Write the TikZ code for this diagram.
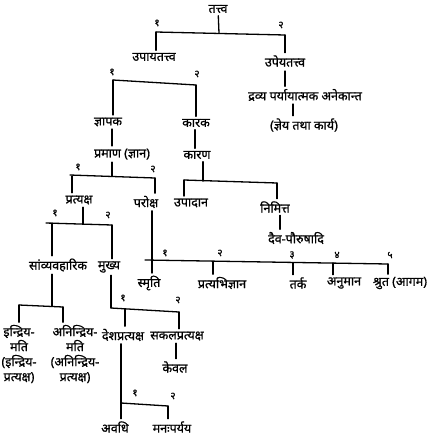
\documentclass[tikz,border=0pt]{standalone}
\usepackage{fontspec}
\newfontfamily\deva[Script=Devanagari,FakeBold=0.9]{Noto Sans}
\begin{document}
\begin{tikzpicture}[x=1pt,y=-1pt,
  lbl/.style={font=\deva\fontsize{12.5}{15}\selectfont, inner sep=2.5pt},
  num/.style={font=\deva\fontsize{10}{12}\selectfont, inner sep=0pt},
  link/.style={line width=1.3pt, line cap=round}]
\useasboundingbox (0,0) rectangle (435,437);

% ---------------- top level ----------------
\node[lbl] (tattva) at (218,9) {तत्त्व};
\node[num] (t1) at (157,23) {१};
\node[num] (t2) at (281,25) {२};
\coordinate (tbL) at (156,32);
\coordinate (tbR) at (285,35);
\coordinate (tbM) at (219,33);
\node[lbl] (upaya) at (154,57) {उपायतत्त्व};
\node[lbl] (upeya) at (285,61) {उपेयतत्त्व};
\draw[link] (tattva) -- (tbM);
\draw[link] (tbL) -- (tbR);
\draw[link] (tbL) -- (tbL |- upaya.north);
\draw[link] (tbR) -- (tbR |- upeya.north);

% upeya branch
\node[lbl] (dravya) at (305,95) {द्रव्य पर्यायात्मक अनेकान्त};
\node[lbl] (jneya) at (304,125) {(ज्ञेय तथा कार्य)};
\coordinate (upx) at (285,71);
\draw[link] (upx) -- (upx |- dravya.north);
\coordinate (drx) at (293,104);
\draw[link] (drx) -- (drx |- jneya.north);

% ---------------- upaya branch ----------------
\node[num] (u1) at (112,72) {१};
\node[num] (u2) at (197,74) {२};
\coordinate (ubL) at (113,80);
\coordinate (ubR) at (196,85);
\draw[link] (ubL) -- (ubR);
\node[lbl] (jnapaka) at (108,122) {ज्ञापक};
\node[lbl] (karaka) at (196,123) {कारक};
\draw[link] (ubL) -- (ubL |- jnapaka.north);
\draw[link] (ubR) -- (ubR |- karaka.north);

\node[lbl] (pramana) at (122,154) {प्रमाण (ज्ञान)};
\node[lbl] (karana) at (197,155) {कारण};
\coordinate (jx) at (112,130);
\draw[link] (jx |- jnapaka.south) -- (jx |- pramana.north);
\coordinate (kx) at (195,131);
\draw[link] (kx |- karaka.south) -- (kx |- karana.north);

% pramana: pratyaksha / paroksha
\node[num] (p1) at (78,167) {१};
\node[num] (p2) at (153,169) {२};
\coordinate (pbL) at (70,175);
\coordinate (pbR) at (155,178);
\coordinate (pbM) at (112,176);
\draw[link] (pbL) -- (pbR);
\draw[link] (pbM |- pramana.south) -- (pbM);
\node[lbl] (pratyaksha) at (79,200) {प्रत्यक्ष};
\node[lbl] (paroksha) at (146,202) {परोक्ष};
\coordinate (pvL) at (72,176);
\draw[link] (pvL) -- (pvL |- pratyaksha.north);
\draw[link] (pbR) -- (pbR |- paroksha.north);

% karana: upadana / nimitta
\coordinate (kbL) at (184,180);
\coordinate (kbR) at (277,183);
\coordinate (kbM) at (203,181);
\draw[link] (kbL) -- (kbR);
\draw[link] (kbM |- karana.south) -- (kbM);
\node[lbl] (upadana) at (191,203) {उपादान};
\node[lbl] (nimitta) at (275,207) {निमित्त};
\draw[link] (kbL) -- (kbL |- upadana.north);
\draw[link] (kbR) -- (kbR |- nimitta.north);
\node[lbl] (daiva) at (296,238) {दैव-पौरुषादि};
\coordinate (nx) at (280,215);
\draw[link] (nx |- nimitta.south) -- (nx |- daiva.north);

% pratyaksha: samvyavaharika / mukhya
\node[num] (r1) at (55,213) {१};
\node[num] (r2) at (108,215) {२};
\coordinate (rbL) at (46,223);
\coordinate (rbR) at (112,225);
\coordinate (rbM) at (83,224);
\draw[link] (rbL) -- (rbR);
\draw[link] (rbM |- pratyaksha.south) -- (rbM);
\node[lbl] (samvy) at (58,265) {सांव्यवहारिक};
\node[lbl] (mukhya) at (109,267) {मुख्य};
\coordinate (rvL) at (52,223);
\draw[link] (rvL) -- (rvL |- samvy.north);
\draw[link] (rbR) -- (rbR |- mukhya.north);

% samvyavaharika: indriya / anindriya
\coordinate (sbL) at (19,305);
\coordinate (sbR) at (63,307);
\coordinate (sbM) at (52,306);
\draw[link] (sbL) -- (sbR);
\draw[link] (sbM |- samvy.south) -- (sbM);
\node[lbl, align=center] (indriya) at (19,354) {इन्द्रिय-\\मति\\(इन्द्रिय-\\प्रत्यक्ष)};
\node[lbl, align=center] (anindriya) at (75,354) {अनिन्द्रिय-\\मति\\(अनिन्द्रिय-\\प्रत्यक्ष)};
\draw[link] (sbL) -- (sbL |- indriya.north);
\draw[link] (sbR) -- (sbR |- anindriya.north);

% mukhya: desha / sakala
\node[num] (m1) at (123,298) {१};
\node[num] (m2) at (178,300) {२};
\coordinate (mbL) at (111,308);
\coordinate (mbR) at (179,312);
\draw[link] (mbL) -- (mbR);
\draw[link] (mbL |- mukhya.south) -- (mbL);
\node[lbl] (desha) at (123,335) {देशप्रत्यक्ष};
\node[lbl] (sakala) at (177,336) {सकलप्रत्यक्ष};
\coordinate (mvL) at (125,309);
\draw[link] (mvL) -- (mvL |- desha.north);
\draw[link] (mbR) -- (mbR |- sakala.north);
\node[lbl] (kevala) at (175,367) {केवल};
\coordinate (sx) at (176,343);
\draw[link] (sx |- sakala.south) -- (sx |- kevala.north);

% desha: avadhi / manahparyaya
\node[num] (d1) at (135,393) {१};
\node[num] (d2) at (173,396) {२};
\coordinate (dbL) at (121,403);
\coordinate (dbR) at (168,406);
\draw[link] (dbL) -- (dbR);
\draw[link] (dbL |- desha.south) -- (dbL);
\node[lbl] (avadhi) at (115,427) {अवधि};
\node[lbl] (manah) at (172,427) {मनःपर्यय};
\draw[link] (dbL) -- (dbL |- avadhi.north);
\draw[link] (dbR) -- (dbR |- manah.north);

% paroksha: five kinds
\node[num] (q1) at (165,253) {१};
\node[num] (q2) at (220,253) {२};
\node[num] (q3) at (292,255) {३};
\node[num] (q4) at (337,255) {४};
\node[num] (q5) at (390,255) {५};
\coordinate (qbL) at (145,260);
\coordinate (qbR) at (388,264);
\draw[link] (qbL) -- (qbR);
\node[lbl] (smriti) at (149,283) {स्मृति};
\node[lbl] (pratyabhi) at (222,283) {प्रत्यभिज्ञान};
\node[lbl] (tarka) at (298,283) {तर्क};
\node[lbl] (anumana) at (344,283) {अनुमान};
\node[lbl] (shruta) at (400,283) {श्रुत (आगम)};
\coordinate (qv1) at (152,261);
\coordinate (qv2) at (213,262);
\coordinate (qv3) at (293,263);
\coordinate (qv4) at (333,263);
\draw[link] (qv1 |- paroksha.south) -- (qv1 |- smriti.north);
\draw[link] (qv2) -- (qv2 |- pratyabhi.north);
\draw[link] (qv3) -- (qv3 |- tarka.north);
\draw[link] (qv4) -- (qv4 |- anumana.north);
\draw[link] (qbR) -- (qbR |- shruta.north);
\end{tikzpicture}
\end{document}
